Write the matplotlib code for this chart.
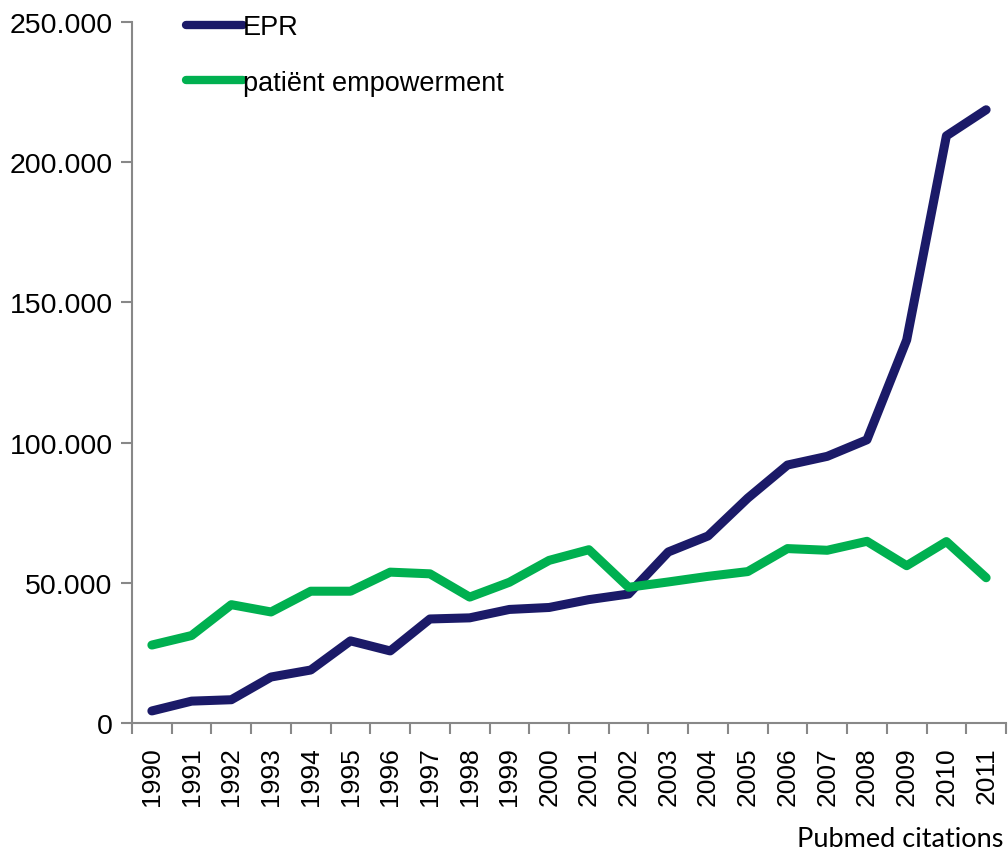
import matplotlib
matplotlib.use("Agg")
import matplotlib.pyplot as plt
from matplotlib.ticker import FuncFormatter, FixedLocator, NullFormatter

years = [str(y) for y in range(1990, 2012)]
epr = [4300, 7800, 8300, 16400, 18900, 29300, 25700, 37100, 37500, 40500,
       41200, 44000, 46000, 61000, 66700, 80200, 92000, 95100, 101000, 136600,
       209400, 218700]
empowerment = [27800, 31200, 42200, 39600, 47000, 47000, 53800, 53200, 44900, 50200,
               58000, 61800, 48400, 50300, 52300, 54000, 62200, 61600, 64800, 56100,
               64700, 51800]
series_names = ["EPR", "patiënt empowerment"]
colors = ["#1B1A68", "#00B050"]
yticks = [0, 50000, 100000, 150000, 200000, 250000]

plt.rcParams['font.family'] = ['Liberation Sans', 'DejaVu Sans']

fig = plt.figure(figsize=(10.08, 8.53), dpi=100)
ax = fig.add_axes([132/1008, 1 - 724/853, (1006 - 132)/1008, (724 - 23)/853])

x = list(range(len(years)))
for vals, name, c in zip([epr, empowerment], series_names, colors):
    ax.plot(x, vals, color=c, lw=6.5, label=name,
            solid_capstyle='round', solid_joinstyle='round')

ax.set_xlim(-0.5, len(years) - 0.5)
ax.set_ylim(0, 250000)
ax.set_yticks(yticks)
ax.yaxis.set_major_formatter(FuncFormatter(lambda v, p: f"{int(v):,}".replace(",", ".")))

ax.xaxis.set_major_locator(FixedLocator([i - 0.5 for i in range(len(years) + 1)]))
ax.xaxis.set_major_formatter(NullFormatter())
ax.xaxis.set_minor_locator(FixedLocator(x))
ax.set_xticklabels(years, minor=True, rotation=90, fontsize=19)
ax.tick_params(axis='x', which='minor', length=0, pad=17)
ax.tick_params(axis='x', which='major', length=8, width=1.5, color='#888888', direction='out')
ax.tick_params(axis='y', length=8, width=1.5, color='#888888', labelsize=20.5, pad=6)

for s in ['top', 'right']:
    ax.spines[s].set_visible(False)
for s in ['left', 'bottom']:
    ax.spines[s].set_color('#888888')
    ax.spines[s].set_linewidth(1.5)

leg = ax.legend(loc='upper left', bbox_to_anchor=(186/1008, 1 - 15/853),
                bbox_transform=fig.transFigure, frameon=False, fontsize=19.5,
                handlelength=2.1, handletextpad=0.0, labelspacing=1.1,
                borderaxespad=0, borderpad=0)
for line in leg.get_lines():
    line.set_solid_capstyle('round')
    line.set_linewidth(6)

fig.text(1003/1008, 1 - 840/853, "Pubmed citations", ha='right', va='center',
         fontsize=19.5, family=['Lato', 'DejaVu Sans'])

fig.savefig("out.png", dpi=100)
